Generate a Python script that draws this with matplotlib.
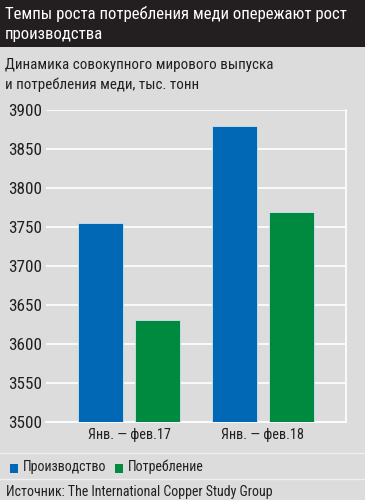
import matplotlib
matplotlib.use("Agg")
import matplotlib.pyplot as plt
from matplotlib.patches import Rectangle
import numpy as np

categories = ["Янв. — фев.17", "Янв. — фев.18"]
production = [3755, 3880]
consumption = [3631, 3769]
series_names = ["Производство", "Потребление"]
yticks = [3500, 3550, 3600, 3650, 3700, 3750, 3800, 3850, 3900]

FONT = ["Roboto Condensed", "DejaVu Sans"]
plt.rcParams['font.family'] = FONT

W, H = 365, 500
fig = plt.figure(figsize=(3.65, 5.0), dpi=100)
bg = "#dcdcdc"
fig.patch.set_facecolor(bg)

def fx(px): return px / W
def fy(py): return 1 - py / H

txtc = "#231f20"
# title bar
fig.patches.append(Rectangle((0, fy(46.5)), 1, 46.5 / H, transform=fig.transFigure,
                             facecolor="#231f20", edgecolor="none", zorder=0))
fig.text(fx(5), fy(13.5), "Темпы роста потребления меди опережают рост", color="white",
         fontsize=12.1, va="center", ha="left")
fig.text(fx(5), fy(34.5), "производства", color="white", fontsize=12.1, va="center", ha="left")
fig.text(fx(5), fy(65.5), "Динамика совокупного мирового выпуска", color=txtc,
         fontsize=10.8, va="center", ha="left")
fig.text(fx(5), fy(85), "и потребления меди, тыс. тонн", color=txtc,
         fontsize=10.8, va="center", ha="left")

ax = fig.add_axes([fx(46), fy(422), fx(346) - fx(46), (422 - 110) / H])
ax.set_facecolor(bg)
x = np.arange(len(categories))
w = 0.335
blue = "#0068b4"
green = "#008a3f"
ax.bar(x - 0.21, [v - 3500 for v in production], bottom=3500, width=w, color=blue,
       zorder=3, edgecolor="#cfe3f2", linewidth=0.6)
ax.bar(x + 0.21, [v - 3500 for v in consumption], bottom=3500, width=w, color=green,
       zorder=3, edgecolor="#cfe3f2", linewidth=0.6)
ax.set_ylim(3500, 3900)
ax.set_xlim(-0.62, 1.62)
ax.set_yticks(yticks)
ax.set_yticklabels([str(t) for t in yticks], fontsize=12.3, color=txtc)
ax.set_xticks(x)
ax.set_xticklabels(categories, fontsize=10.3, color=txtc)
ax.tick_params(length=0)
ax.tick_params(axis="x", pad=4)
ax.tick_params(axis="y", pad=3)
ax.grid(axis="y", color="white", linewidth=1.2, zorder=1)
for s in ["left", "top"]:
    ax.spines[s].set_visible(False)
for s in ["bottom", "right"]:
    ax.spines[s].set_color("white")
    ax.spines[s].set_linewidth(1.2)

# separators
for py in (453, 479):
    fig.lines.append(plt.Line2D([0, 1], [fy(py), fy(py)], transform=fig.transFigure,
                                color="#f0f0f0", linewidth=1))

# legend
fig.patches.append(Rectangle((fx(10), fy(473)), 8 / W, 9 / H, transform=fig.transFigure,
                             facecolor=blue, edgecolor="none"))
fig.text(fx(23), fy(467), series_names[0], fontsize=10, va="center", ha="left", color=txtc)
fig.patches.append(Rectangle((fx(115), fy(473)), 8 / W, 9 / H, transform=fig.transFigure,
                             facecolor=green, edgecolor="none"))
fig.text(fx(128), fy(467), series_names[1], fontsize=10, va="center", ha="left", color=txtc)

fig.text(fx(6), fy(492), "Источник: The International Copper Study Group", fontsize=10,
         va="center", ha="left", color=txtc)

fig.savefig("out.png", dpi=100, facecolor=bg)
